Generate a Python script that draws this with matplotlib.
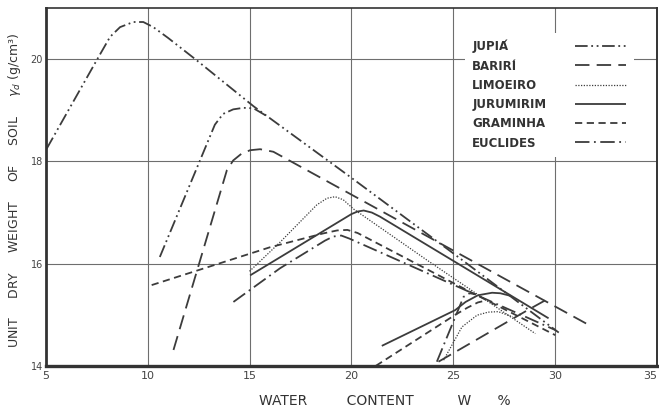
import matplotlib
matplotlib.use("Agg")
import matplotlib.pyplot as plt

# compaction curves: water content w [%] vs dry unit weight [g/cm3]
jupia_w1 = [5.05, 7.5, 8.16, 8.65, 9.3, 9.79, 10.28, 11.0, 12.41, 15.2, 20.0, 25.0, 30.17]
jupia_g1 = [18.25, 19.98, 20.44, 20.63, 20.73, 20.73, 20.63, 20.42, 19.98, 19.08, 17.68, 16.20, 14.65]
jupia_w2 = [10.6, 13.3, 13.7, 14.2, 14.7, 15.2, 15.8]
jupia_g2 = [16.13, 18.72, 18.93, 19.02, 19.05, 19.04, 18.90]

bariri_w1 = [11.27, 13.89, 14.2, 14.6, 15.03, 15.52, 16.17, 31.64]
bariri_g1 = [14.31, 17.83, 18.02, 18.15, 18.22, 18.24, 18.19, 14.80]
bariri_w2 = [24.27, 28.6, 29.5]
bariri_g2 = [14.08, 15.08, 15.28]

limoeiro_w1 = [15.0, 16.5, 18.3, 18.8, 19.2, 19.6, 20.1, 23.7, 29.02]
limoeiro_g1 = [15.85, 16.42, 17.15, 17.28, 17.31, 17.25, 17.07, 16.07, 14.63]
limoeiro_w2 = [24.52, 25.42, 26.16, 26.7, 27.2, 27.9]
limoeiro_g2 = [14.11, 14.76, 14.99, 15.05, 15.06, 14.96]

jurumirim_w1 = [15.03, 20.0, 20.3, 20.6, 21.0, 21.4, 29.67]
jurumirim_g1 = [15.77, 16.97, 17.02, 17.04, 17.00, 16.92, 14.93]
jurumirim_w2 = [21.49, 25.09, 25.6, 26.2, 26.9, 27.3, 27.8]
jurumirim_g2 = [14.39, 15.09, 15.25, 15.38, 15.43, 15.42, 15.37]

graminha_w1 = [10.2, 16.0, 18.6, 19.3, 19.8, 20.3, 25.67, 30.0]
graminha_g1 = [15.58, 16.32, 16.59, 16.65, 16.66, 16.60, 15.48, 14.60]
graminha_w2 = [21.2, 25.1, 25.7, 26.2, 26.6]
graminha_g2 = [14.0, 15.0, 15.14, 15.24, 15.28]

euclides_w1 = [14.21, 16.5, 18.7, 19.1, 19.5, 19.9, 30.0]
euclides_g1 = [15.25, 15.91, 16.45, 16.53, 16.55, 16.49, 14.70]
euclides_w2 = [24.19, 25.5, 25.8, 26.1]
euclides_g2 = [14.08, 15.35, 15.42, 15.40]

names = ["JUPIA\u0301", "BARIRI\u0301", "LIMOEIRO", "JURUMIRIM", "GRAMINHA", "EUCLIDES"]
x_ticks = [5, 10, 15, 20, 25, 30, 35]
y_ticks = [14, 16, 18, 20]

ink = "#3c3c3c"
styles = [
    dict(ls=(0, (7, 2, 1, 2, 1, 2)), lw=1.3),   # jupia
    dict(ls=(0, (8, 4)), lw=1.3),               # bariri
    dict(ls=(0, (1, 1.2)), lw=0.9),             # limoeiro
    dict(ls="-", lw=1.3),                       # jurumirim
    dict(ls=(0, (4, 2.5)), lw=1.3),             # graminha
    dict(ls=(0, (8, 2.5, 1, 2.5)), lw=1.3),     # euclides
]
curves = [
    [(jupia_w1, jupia_g1), (jupia_w2, jupia_g2)],
    [(bariri_w1, bariri_g1), (bariri_w2, bariri_g2)],
    [(limoeiro_w1, limoeiro_g1), (limoeiro_w2, limoeiro_g2)],
    [(jurumirim_w1, jurumirim_g1), (jurumirim_w2, jurumirim_g2)],
    [(graminha_w1, graminha_g1), (graminha_w2, graminha_g2)],
    [(euclides_w1, euclides_g1), (euclides_w2, euclides_g2)],
]

fig = plt.figure(figsize=(6.59, 4.11), dpi=100)
ax = fig.add_axes([0.0693, 0.110, 0.928, 0.870])

handles = []
for name, st, pair in zip(names, styles, curves):
    for k, (w, g) in enumerate(pair):
        ln, = ax.plot(w, g, color=ink, solid_capstyle="butt", dash_capstyle="butt",
                      label=name if k == 0 else None, **st)
        if k == 0:
            handles.append(ln)

ax.set_xlim(5, 35)
ax.set_ylim(14, 21)
ax.set_xticks(x_ticks)
ax.set_yticks(y_ticks)
ax.tick_params(length=0, labelsize=8, colors="#444444", pad=4)
ax.tick_params(axis="y", labelsize=7, pad=2)
ax.get_xticklabels()[-1].set_ha("right")
for v in [10, 15, 20, 25, 30]:
    ax.axvline(v, color="#6e6e6e", lw=0.8, zorder=0)
for v in [16, 18, 20]:
    ax.axhline(v, color="#6e6e6e", lw=0.8, zorder=0)

ax.spines["left"].set_linewidth(2.0)
ax.spines["bottom"].set_linewidth(2.4)
ax.spines["top"].set_linewidth(1.2)
ax.spines["right"].set_linewidth(1.4)
for s in ax.spines.values():
    s.set_color("#333333")

ax.set_xlabel("WATER         CONTENT          W      %", fontsize=10, color="#333333")
ax.xaxis.set_label_coords(0.555, -0.08)
ax.set_ylabel("UNIT     DRY     WEIGHT     OF     SOIL     $\\gamma_d$ (g/cm\u00b3)",
              fontsize=9, color="#333333")
ax.yaxis.set_label_coords(-0.037, 0.49)

fs = 8.5
leg = ax.legend(handles=handles, loc="upper left", bbox_to_anchor=(0.6765, 0.948),
                markerfirst=False, frameon=True, fancybox=False, framealpha=1,
                edgecolor="none", facecolor="white", fontsize=fs, handlelength=4.4,
                handletextpad=1.2, labelspacing=0.53, borderpad=0.6)
for t in leg.get_texts():
    t.set_color("#333333")
    t.set_fontweight("bold")

# labels on the left, handles lined up on the right: pad each row's gap
fig.canvas.draw()
r = fig.canvas.get_renderer()
widths = [t.get_window_extent(r).width for t in leg.get_texts()]
rows = leg._legend_handle_box.get_children()[0].get_children()
for row, wd in zip(rows, widths):
    row.sep = 1.2 * fs + 10 + (max(widths) - wd) * 72 / fig.dpi

fig.savefig("out.png", dpi=100)
